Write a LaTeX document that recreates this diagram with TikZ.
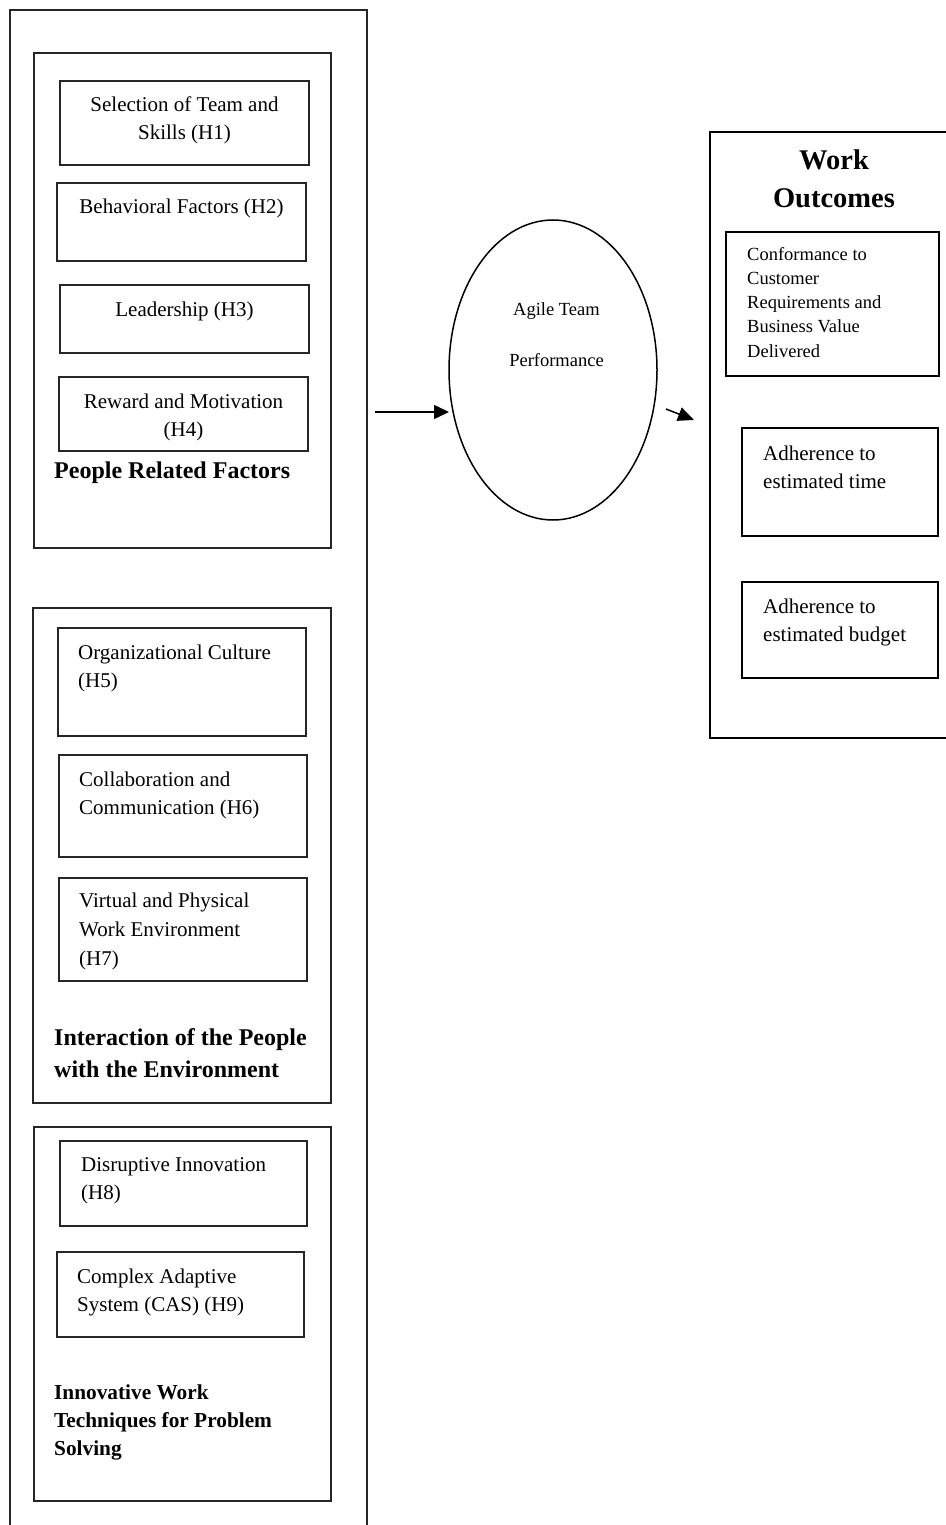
\documentclass[tikz,border=0pt]{standalone}
\usepackage{fontspec}
\setmainfont{Liberation Serif}
\usetikzlibrary{arrows.meta,shapes.geometric,fit}
\begin{document}
\begin{tikzpicture}[x=1pt,y=-1pt,
  frame/.style={draw=black!85, line width=1.3pt, inner sep=0pt},
  item/.style={draw=black!85, line width=1.1pt, inner sep=0pt},
  outbox/.style={draw=black, line width=1.8pt, inner sep=0pt},
  reg/.style={inner sep=0pt, font=\fontsize{21}{28}\selectfont},
  small/.style={inner sep=0pt, font=\fontsize{18.5}{24.3}\selectfont},
  head/.style={inner sep=0pt, font=\fontsize{24}{32}\selectfont\bfseries},
  subhead/.style={inner sep=0pt, font=\fontsize{21.3}{28}\selectfont\bfseries},
  title/.style={inner sep=0pt, font=\fontsize{28.5}{38}\selectfont\bfseries},
  arr/.style={line width=1.5pt, -{Triangle[length=15pt,width=14pt]}}]
\useasboundingbox (0,0) rectangle (945,1525);

% left column: three groups of factors
\node[frame, fit={(10,10) (367,1545)}] (left) {};

\node[frame, fit={(34,53) (331,548)}] (people) {};
\node[item, fit={(60,81) (309,165)}] (h1) {};
\node[item, fit={(57,183) (306,261)}] (h2) {};
\node[item, fit={(60,285) (309,353)}] (h3) {};
\node[item, fit={(59,377) (308,451)}] (h4) {};
\node[reg, anchor=base] (h1t) at (184.5,111.5) {\parbox[t]{240pt}{\centering Selection of Team and\\Skills (H1)}};
\node[reg, anchor=base] (h2t) at (181.5,213) {Behavioral Factors (H2)};
\node[reg, anchor=base] (h3t) at (184.5,316) {Leadership (H3)};
\node[reg, anchor=base] (h4t) at (183.5,408) {\parbox[t]{240pt}{\centering Reward and Motivation\\(H4)}};
\node[head, anchor=base west] (peoplet) at (54,478) {People Related Factors};

\node[frame, fit={(33,608) (331,1103)}] (inter) {};
\node[item, fit={(58,628) (306,736)}] (h5) {};
\node[item, fit={(59,755) (307,857)}] (h6) {};
\node[item, fit={(59,878) (307,981)}] (h7) {};
\node[reg, anchor=base west] (h5t) at (78,659) {\parbox[t]{230pt}{Organizational Culture\\(H5)}};
\node[reg, anchor=base west] (h6t) at (79,786) {\parbox[t]{230pt}{Collaboration and\\Communication (H6)}};
\node[reg, anchor=base west, font=\fontsize{21}{29}\selectfont] (h7t) at (79,907) {\parbox[t]{230pt}{Virtual and Physical\\Work Environment\\(H7)}};
\node[head, anchor=base west] (intert) at (54,1045) {\parbox[t]{280pt}{Interaction of the People\\with the Environment}};

\node[frame, fit={(34,1127) (331,1501)}] (innov) {};
\node[item, fit={(60,1141) (307,1226)}] (h8) {};
\node[item, fit={(57,1252) (304,1337)}] (h9) {};
\node[reg, anchor=base west] (h8t) at (81,1171) {\parbox[t]{230pt}{Disruptive Innovation\\(H8)}};
\node[reg, anchor=base west] (h9t) at (77,1283) {\parbox[t]{230pt}{Complex Adaptive\\System (CAS) (H9)}};
\node[subhead, anchor=base west] (innovt) at (54,1399) {\parbox[t]{270pt}{Innovative Work\\Techniques for Problem\\Solving}};

% central construct
\node[ellipse, draw, line width=1.5pt, minimum width=208pt, minimum height=300pt, inner sep=0pt] (perf) at (553,370) {};
\node[small, anchor=base, font=\fontsize{18.5}{51}\selectfont] (perft) at (556.5,315) {\parbox[t]{120pt}{\centering Agile Team\\Performance}};

% right column: outcomes
\node[outbox, fit={(710,132) (965,738)}] (work) {};
\node[title, anchor=base] (workt) at (834,170) {\parbox[t]{200pt}{\centering Work\\Outcomes}};
\node[outbox, fit={(726,232) (939,376)}] (conf) {};
\node[small, anchor=base west] (conft) at (747,260) {\parbox[t]{190pt}{Conformance to\\Customer\\Requirements and\\Business Value\\Delivered}};
\node[outbox, fit={(742,428) (938,536)}] (time) {};
\node[reg, anchor=base west] (timet) at (763,460) {\parbox[t]{170pt}{Adherence to\\estimated time}};
\node[outbox, fit={(742,582) (938,678)}] (budget) {};
\node[reg, anchor=base west] (budgett) at (763,613) {\parbox[t]{170pt}{Adherence to\\estimated budget}};

% connectors
\coordinate (a1s) at (375,412);
\coordinate (a1e) at (449,412);
\coordinate (a2s) at (666,409);
\coordinate (a2e) at (694,420);
\draw[arr] (a1s) -- (a1e);
\draw[arr, -{Triangle[length=16pt,width=14pt]}] (a2s) -- (a2e);
\end{tikzpicture}
\end{document}
